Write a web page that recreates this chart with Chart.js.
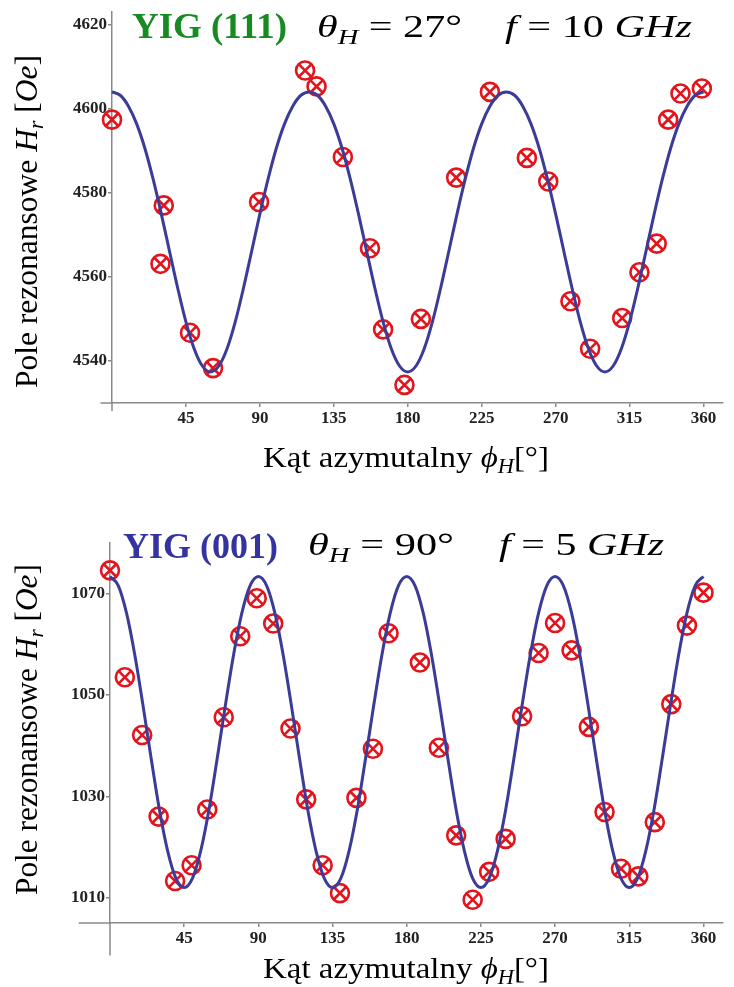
<!DOCTYPE html>
<html>
<head>
<meta charset="utf-8">
<script src="https://cdn.jsdelivr.net/npm/chart.js@4.4.1/dist/chart.umd.min.js"></script>
<style>
  html, body { margin: 0; padding: 0; background: #fff; }
  #page { position: relative; width: 734px; height: 987px; overflow: hidden; font-family: 'Liberation Serif', 'Times New Roman', serif; }
  .panel { position: absolute; left: 0; width: 734px; }
  .panel canvas { position: absolute; left: 0; top: 0; }
  .txt { position: absolute; white-space: nowrap; line-height: 1; transform-origin: 0 0; color: #000; }
  .txt sub { font-size: 0.68em; vertical-align: baseline; position: relative; top: 0.3em; line-height: 0; }
  .yig { font-weight: bold; }
</style>
</head>
<body>
<div id="page">
  <div class="panel" style="top:0;height:493px"><canvas id="chart111" width="734" height="493"></canvas></div>
  <div class="panel" style="top:493px;height:494px"><canvas id="chart001" width="734" height="494"></canvas></div>

  <div class="txt yig" id="t1a" style="color:#178a22">YIG (111)</div>
  <div class="txt" id="t1b"><i>θ</i><sub><i>H</i></sub> = 27°</div>
  <div class="txt" id="t1c"><i>f</i> = 10 <i>GHz</i></div>
  <div class="txt" id="y1">Pole rezonansowe <i>H<sub>r</sub></i> [<i>Oe</i>]</div>
  <div class="txt" id="x1">Kąt azymutalny <i>ϕ<sub>H</sub></i>[°]</div>

  <div class="txt yig" id="t2a" style="color:#3434a0">YIG (001)</div>
  <div class="txt" id="t2b"><i>θ</i><sub><i>H</i></sub> = 90°</div>
  <div class="txt" id="t2c"><i>f</i> = 5 <i>GHz</i></div>
  <div class="txt" id="y2">Pole rezonansowe <i>H<sub>r</sub></i> [<i>Oe</i>]</div>
  <div class="txt" id="x2">Kąt azymutalny <i>ϕ<sub>H</sub></i>[°]</div>
</div>

<script>
// tick labels
const xTicks = [45, 90, 135, 180, 225, 270, 315, 360];
const yTicks111 = [4540, 4560, 4580, 4600, 4620];
const yTicks001 = [1010, 1030, 1050, 1070];

// fitted curves, every 5 degrees
const curveAngles = [0, 5, 10, 15, 20, 25, 30, 35, 40, 45, 50, 55, 60, 65, 70, 75, 80, 85, 90, 95,
  100, 105, 110, 115, 120, 125, 130, 135, 140, 145, 150, 155, 160, 165, 170, 175, 180, 185, 190, 195,
  200, 205, 210, 215, 220, 225, 230, 235, 240, 245, 250, 255, 260, 265, 270, 275, 280, 285, 290, 295,
  300, 305, 310, 315, 320, 325, 330, 335, 340, 345, 350, 355, 360];

const fit111 = [4604.0, 4603.2, 4600.6, 4596.4, 4590.6, 4583.3, 4575.0, 4566.1, 4557.3, 4549.3, 4542.9, 4538.8,
  4537.4, 4538.8, 4542.9, 4549.3, 4557.3, 4566.1, 4575.0, 4583.3, 4590.6, 4596.4, 4600.6, 4603.2,
  4604.0, 4603.2, 4600.6, 4596.4, 4590.6, 4583.3, 4575.0, 4566.1, 4557.3, 4549.3, 4542.9, 4538.8,
  4537.4, 4538.8, 4542.9, 4549.3, 4557.3, 4566.1, 4575.0, 4583.3, 4590.6, 4596.4, 4600.6, 4603.2,
  4604.0, 4603.2, 4600.6, 4596.4, 4590.6, 4583.3, 4575.0, 4566.1, 4557.3, 4549.3, 4542.9, 4538.8,
  4537.4, 4538.8, 4542.9, 4549.3, 4557.3, 4566.1, 4575.0, 4583.3, 4590.6, 4596.4, 4600.6, 4603.2,
  4604.0];

const fit001 = [1073.4, 1071.6, 1066.2, 1058.0, 1048.0, 1037.4, 1027.3, 1019.2, 1013.8, 1012.0,
  1013.8, 1019.2, 1027.3, 1037.4, 1048.0, 1058.0, 1066.2, 1071.6,
  1073.4, 1071.6, 1066.2, 1058.0, 1048.0, 1037.4, 1027.3, 1019.2, 1013.8, 1012.0,
  1013.8, 1019.2, 1027.3, 1037.4, 1048.0, 1058.0, 1066.2, 1071.6,
  1073.4, 1071.6, 1066.2, 1058.0, 1048.0, 1037.4, 1027.3, 1019.2, 1013.8, 1012.0,
  1013.8, 1019.2, 1027.3, 1037.4, 1048.0, 1058.0, 1066.2, 1071.6,
  1073.4, 1071.6, 1066.2, 1058.0, 1048.0, 1037.4, 1027.3, 1019.2, 1013.8, 1012.0,
  1013.8, 1019.2, 1027.3, 1037.4, 1048.0, 1058.0, 1066.2, 1071.6,
  1073.4];

// measured points
const phi111 = [0, 29.5, 31.5, 47.5, 61.5, 89.5, 117.5, 124.5, 140.5, 157, 165, 178, 188,
  209.5, 230, 252.5, 265.5, 279, 291, 310.5, 321, 331.5, 338.5, 346, 359];
const hr111 = [4597.4, 4563.1, 4577.0, 4546.7, 4538.3, 4577.8, 4609.1, 4605.3, 4588.5, 4566.8, 4547.5, 4534.3, 4550.0,
  4583.6, 4604.0, 4588.3, 4582.7, 4554.2, 4542.9, 4550.2, 4561.1, 4567.9, 4597.4, 4603.6, 4604.8];

const phi001 = [0, 9, 19.5, 29.5, 39.5, 49.5, 59, 69, 79, 89, 99, 109.5, 119, 129, 139.5, 149.5, 159.5, 169,
  188, 199.5, 210, 220, 230, 240, 250, 260, 270, 280, 290.5, 300, 310, 320.5, 330.5, 340.5, 350, 360];
const hr001 = [1074.6, 1053.5, 1042.1, 1026.0, 1013.3, 1016.4, 1027.4, 1045.6, 1061.6, 1069.1, 1064.1, 1043.4,
  1029.4, 1016.4, 1010.9, 1029.7, 1039.4, 1062.2, 1056.4, 1039.6, 1022.3, 1009.6, 1015.1, 1021.6,
  1045.8, 1058.3, 1064.2, 1058.8, 1043.7, 1026.9, 1015.7, 1014.2, 1024.9, 1048.2, 1063.7, 1070.2];

const AXIS = '#8a8a8a';
const LINE = '#3b3b98';
const RED = '#e3141c';
const tickFont = { family: "'Liberation Serif', 'Times New Roman', serif", size: 17, weight: 'bold' };

// short bits of the axes that stick out past the crossing point
const axisStubs = {
    id: 'axisStubs',
    afterDraw(chart, args, opts) {
        const { ctx, chartArea, scales: { x, y } } = chart;
        ctx.save();
        ctx.strokeStyle = AXIS;
        ctx.lineWidth = 1.5;
        ctx.beginPath();
        ctx.moveTo(x.getPixelForValue(opts.xFrom), chartArea.bottom);
        ctx.lineTo(chartArea.left, chartArea.bottom);
        ctx.moveTo(chartArea.left, chartArea.bottom);
        ctx.lineTo(chartArea.left, y.getPixelForValue(opts.yTo));
        ctx.stroke();
        ctx.restore();
    }
};

function makeChart(id, fit, phi, hr, yTicks, cfg) {
    const pts = phi.map((p, i) => ({ x: p, y: hr[i] }));
    new Chart(document.getElementById(id).getContext('2d'), {
        type: 'scatter',
        data: {
            datasets: [{
                data: curveAngles.map((a, i) => ({ x: a, y: fit[i] })),
                showLine: true,
                borderColor: LINE,
                borderWidth: 3,
                pointRadius: 0,
                cubicInterpolationMode: 'monotone',
                clip: false
            }, {
                data: pts,
                pointStyle: 'circle',
                pointRadius: 9,
                pointBorderWidth: 2.6,
                pointBorderColor: RED,
                pointBackgroundColor: 'rgba(0,0,0,0)',
                clip: false
            }, {
                data: pts,
                pointStyle: 'crossRot',
                pointRadius: 9,
                pointBorderWidth: 2.6,
                pointBorderColor: RED,
                clip: false
            }]
        },
        options: {
            responsive: false,
            animation: false,
            layout: { padding: cfg.padding },
            plugins: {
                legend: { display: false },
                tooltip: { enabled: false },
                axisStubs: { xFrom: cfg.xFrom, yTo: cfg.yTo }
            },
            scales: {
                x: {
                    type: 'linear',
                    min: 0,
                    max: 371.5,
                    afterBuildTicks: (s) => { s.ticks = xTicks.map(v => ({ value: v })); },
                    afterFit: (s) => { s.height = 30; },
                    ticks: { color: '#222', font: tickFont, padding: 1, maxRotation: 0, autoSkip: false,
                             callback: (v) => String(v) },
                    grid: { drawOnChartArea: false, tickLength: 4, color: AXIS, lineWidth: 1.5 },
                    border: { display: true, color: AXIS, width: 1.5 }
                },
                y: {
                    type: 'linear',
                    min: cfg.yMin,
                    max: cfg.yMax,
                    afterBuildTicks: (s) => { s.ticks = yTicks.map(v => ({ value: v })); },
                    afterFit: (s) => { s.width = cfg.yWidth; },
                    ticks: { color: '#222', font: tickFont, padding: 1, autoSkip: false,
                             callback: (v) => String(v) },
                    grid: { drawOnChartArea: false, tickLength: 4, color: AXIS, lineWidth: 1.5 },
                    border: { display: true, color: AXIS, width: 1.5 }
                }
            }
        },
        plugins: [axisStubs]
    });
}

makeChart('chart111', fit111, phi111, hr111, yTicks111, {
    padding: { top: 12, right: 1, bottom: 60, left: 0 },
    yMin: 4530, yMax: 4623, yWidth: 112, xFrom: -7, yTo: 4528.1
});
makeChart('chart001', fit001, phi001, hr001, yTicks001, {
    padding: { top: 50, right: 1, bottom: 34, left: 0 },
    yMin: 1005, yMax: 1080, yWidth: 110, xFrom: -19, yTo: 998.6
});

// html labels, stretched to the width they take in the picture
function fitText(id, left, right, baseline, size) {
    const el = document.getElementById(id);
    el.style.fontSize = size + 'px';
    el.style.left = left + 'px';
    el.style.top = (baseline - 0.84 * size) + 'px';
    const w = el.getBoundingClientRect().width;
    el.style.transform = 'scaleX(' + ((right - left) / w) + ')';
}

function fitVertical(id, top, bottom, baseX, size) {
    const el = document.getElementById(id);
    el.style.fontSize = size + 'px';
    const w = el.getBoundingClientRect().width;
    el.style.left = baseX + 'px';
    el.style.top = (bottom - 0.84 * size) + 'px';
    el.style.transformOrigin = '0 ' + (0.84 * size) + 'px';
    el.style.transform = 'rotate(-90deg) scaleX(' + ((bottom - top) / w) + ')';
}

fitText('t1a', 132, 287, 38, 35);
fitText('t1b', 317, 462, 37, 32);
fitText('t1c', 505, 692, 37, 32);
fitVertical('y1', 55, 388, 37, 31);
fitText('x1', 263, 549, 467, 30);

fitText('t2a', 123, 278, 558, 35);
fitText('t2b', 308, 454, 555, 32);
fitText('t2c', 499, 664, 555, 32);
fitVertical('y2', 564, 895, 37, 31);
fitText('x2', 263, 549, 978, 30);
</script>
</body>
</html>
